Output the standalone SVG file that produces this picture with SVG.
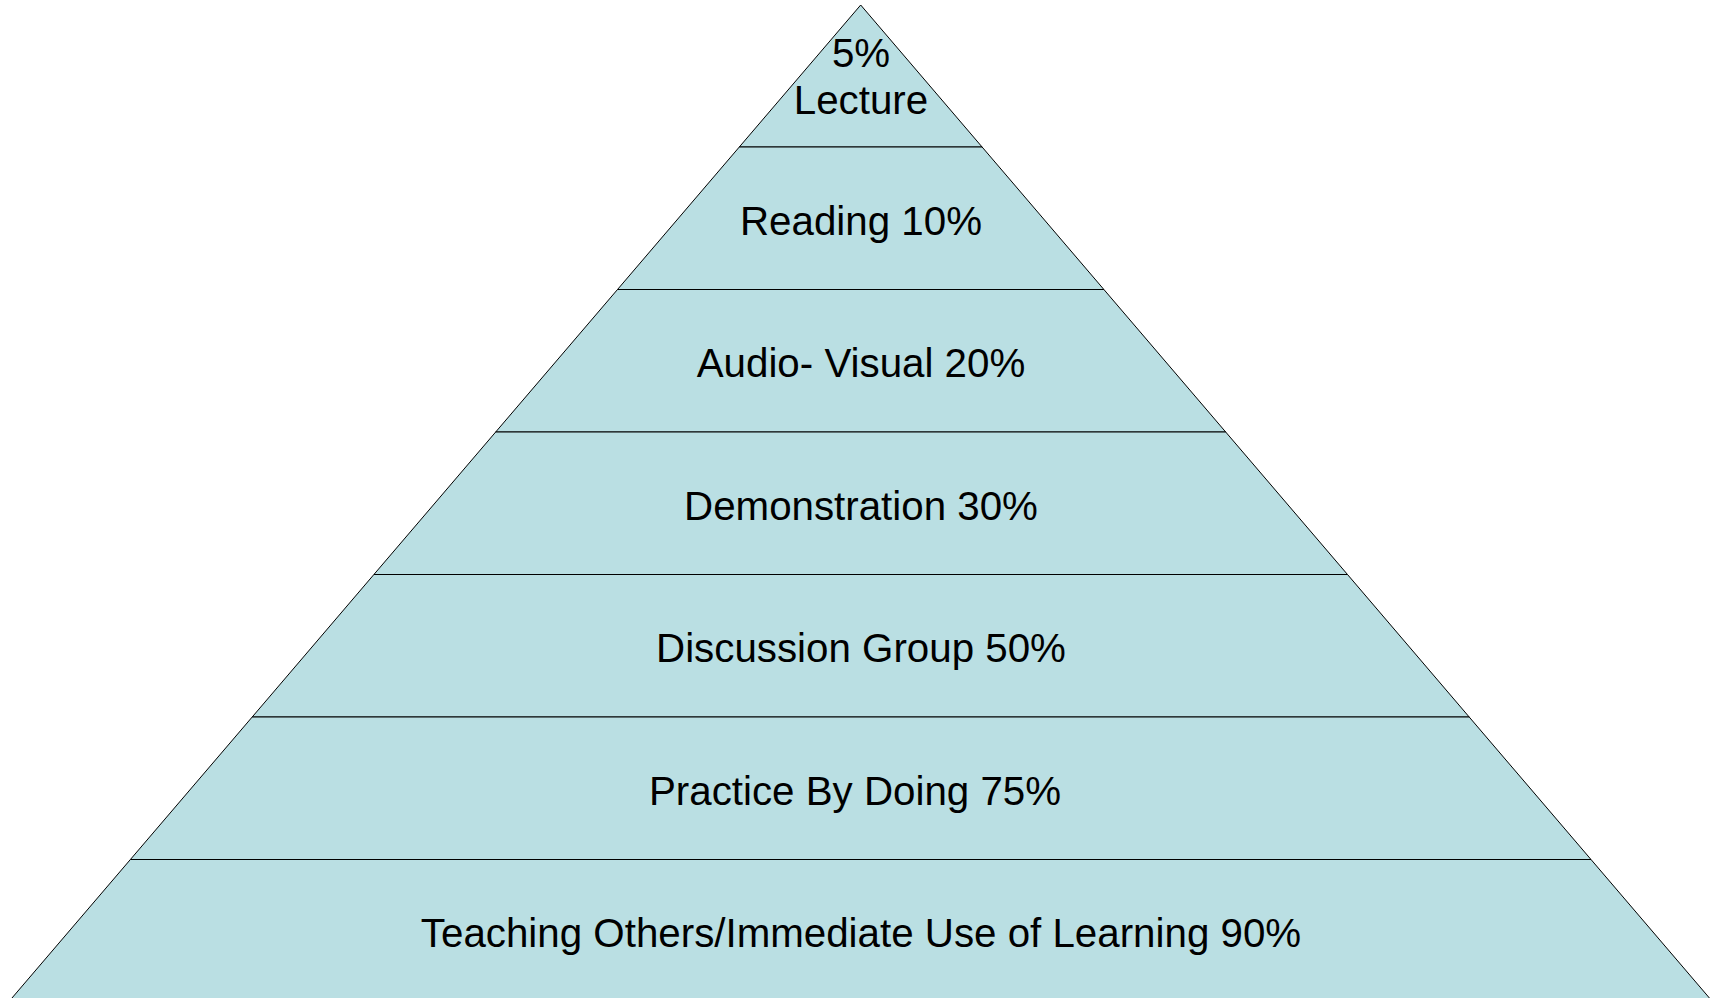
<svg xmlns="http://www.w3.org/2000/svg" width="1721" height="998" viewBox="0 0 1721 998">
<style>
.band{fill:#BADFE3;stroke:#000;stroke-width:1}
.lbl{font-family:"Liberation Sans",Arial,sans-serif;font-size:40.3px;fill:#000;text-anchor:middle}
</style>
<rect width="1721" height="998" fill="#fff"/>
<g id="lecture">
<polygon class="band" points="860.7,5 982.1,147 739.3,147"/>
<text class="lbl" x="861" y="67">5%</text>
<text class="lbl" x="861" y="114">Lecture</text>
</g>
<g id="reading">
<polygon class="band" points="739.3,147 982.1,147 1103.9,289.5 617.5,289.5"/>
<text class="lbl" x="861" y="235">Reading 10%</text>
</g>
<g id="audiovisual">
<polygon class="band" points="617.5,289.5 1103.9,289.5 1225.7,432 495.7,432"/>
<text class="lbl" x="861" y="377">Audio- Visual 20%</text>
</g>
<g id="demonstration">
<polygon class="band" points="495.7,432 1225.7,432 1347.5,574.5 373.9,574.5"/>
<text class="lbl" x="861" y="519.5">Demonstration 30%</text>
</g>
<g id="discussion">
<polygon class="band" points="373.9,574.5 1347.5,574.5 1469.2,717 252.2,717"/>
<text class="lbl" x="861" y="662">Discussion Group 50%</text>
</g>
<g id="practice">
<polygon class="band" points="252.2,717 1469.2,717 1591,859.5 130.4,859.5"/>
<text class="lbl" x="855" y="804.5">Practice By Doing 75%</text>
</g>
<g id="teaching">
<polygon class="band" points="130.4,859.5 1591,859.5 1713.7,1003 7.7,1003"/>
<text class="lbl" x="861" y="946.5">Teaching Others/Immediate Use of Learning 90%</text>
</g>
<g id="connectors"></g>
</svg>
